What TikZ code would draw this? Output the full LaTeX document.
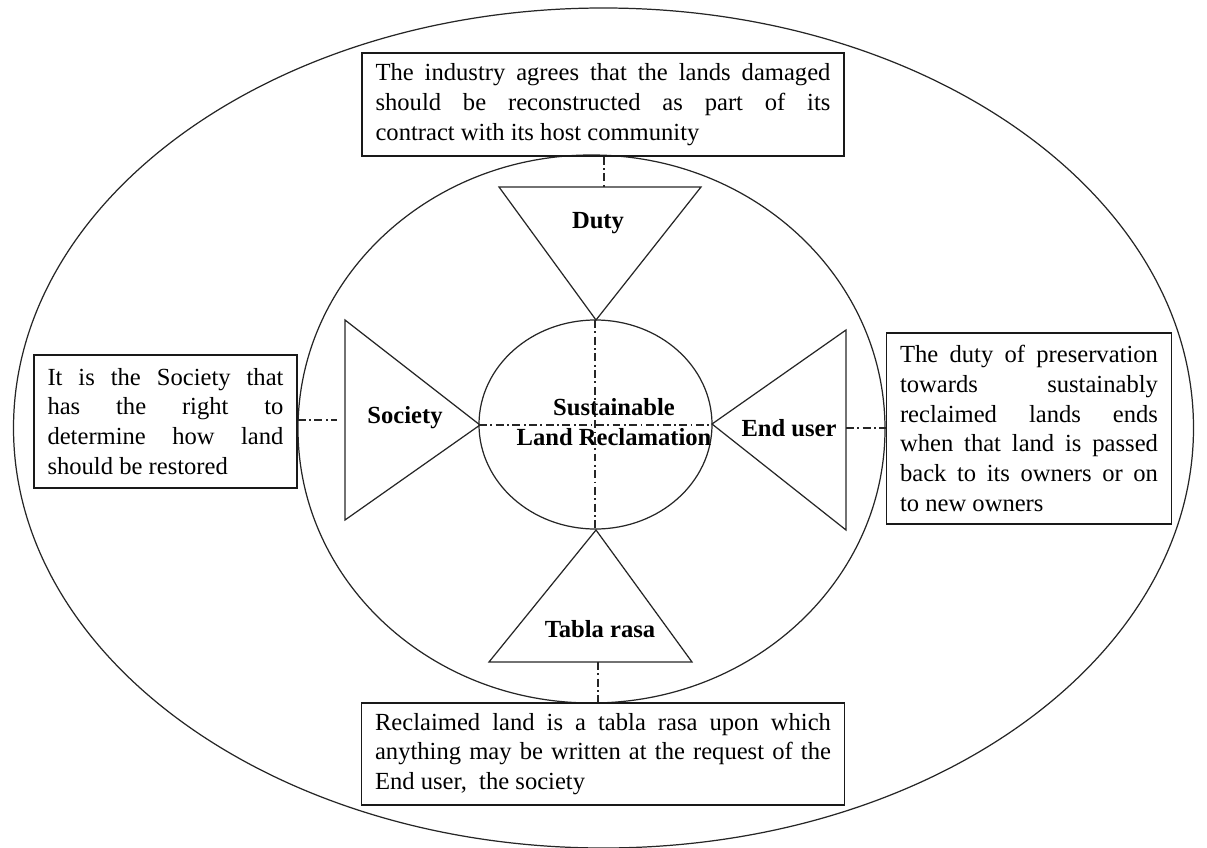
\documentclass[tikz,border=0pt]{standalone}
\usepackage{fontspec}
\setmainfont{Liberation Serif}
\usetikzlibrary{positioning}

\newcommand{\bodysize}{\fontsize{14}{17}\selectfont}

\begin{document}
\begin{tikzpicture}[x=0.02cm,y=-0.02cm,
        ring/.style={line width=0.7pt,draw=black!85},
        wedge/.style={line width=0.7pt,draw=black!85},
        note/.style={draw=black!90,line width=0.9pt,inner xsep=0.27cm,inner ysep=0pt,
            align=justify,font=\bodysize},
        tag/.style={font=\bodysize\bfseries,align=center},
        link/.style={line width=0.7pt,draw=black!85,dash pattern=on 4.5pt off 2pt on 1pt off 2pt}
    ]
    \useasboundingbox (0,0) rectangle (1207,848);

    % rings
    \draw[ring] (603.5,428) ellipse [x radius=590, y radius=420];
    \draw[ring] (591.5,429) ellipse [x radius=293.5, y radius=274];
    \draw[ring] (595.5,424.5) ellipse [x radius=116.5, y radius=104.5];

    % triangles
    \coordinate (dutyl) at (499,187);
    \coordinate (dutyr) at (701,187);
    \coordinate (dutyapex) at (596,320);
    \draw[wedge] (dutyl) -- (dutyr) -- (dutyapex) -- cycle;

    \coordinate (socu) at (345,320);
    \coordinate (socd) at (345,520);
    \coordinate (socapex) at (480,425);
    \draw[wedge] (socu) -- (socd) -- (socapex) -- cycle;

    \coordinate (euu) at (846,330);
    \coordinate (eud) at (846,530);
    \coordinate (euapex) at (712,424);
    \draw[wedge] (euu) -- (eud) -- (euapex) -- cycle;

    \coordinate (trl) at (489,662);
    \coordinate (trr) at (692,662);
    \coordinate (trapex) at (596,530);
    \draw[wedge] (trl) -- (trr) -- (trapex) -- cycle;

    % labels
    \node[tag] (duty) at (598,223) {Duty};
    \node[tag] (society) at (405,418) {Society};
    \node[tag] (enduser) at (789,428) {End user};
    \node[tag] (tabula) at (600,629) {Tabla rasa};
    \node[tag] (core) at (614,422) {Sustainable\\Land Reclamation};

    % notes
    \node[note,text width=9.1cm,minimum height=2.06cm] (topnote) at (603,104.5)
    {The industry agrees that the lands damaged\linebreak should be reconstructed as part of its\linebreak contract with its host community};
    \node[note,text width=4.72cm,minimum height=2.66cm] (leftnote) at (165.5,421.5)
    {It is the Society that\linebreak has the right to\linebreak determine how land\linebreak should be restored};
    \node[note,text width=5.16cm,minimum height=3.82cm] (rightnote) at (1029,428.5)
    {The duty of preservation\linebreak towards sustainably\linebreak reclaimed lands ends\linebreak when that land is passed\linebreak back to its owners or on\linebreak to new owners};
    \node[note,text width=9.12cm,minimum height=2.04cm] (bottomnote) at (603,754)
    {Reclaimed land is a tabla rasa upon which\linebreak anything may be written at the request of the\linebreak End user,\ \ the society};

    % dash-dot links
    \coordinate (dutyhead) at (604,187);
    \coordinate (socend) at (337,420);
    \coordinate (eubase) at (846,428);
    \coordinate (trbase) at (598,662);
    \coordinate (coretop) at (595,320);
    \coordinate (corebot) at (595,529);
    \coordinate (corel) at (479,425);
    \coordinate (corer) at (712,425);
    \draw[link] (dutyhead |- topnote.south) -- (dutyhead);
    \draw[link] (leftnote.east |- socend) -- (socend);
    \draw[link] (eubase) -- (eubase -| rightnote.west);
    \draw[link] (trbase) -- (trbase |- bottomnote.north);
    \draw[link] (coretop) -- (corebot);
    \draw[link] (corel) -- (corer);
\end{tikzpicture}
\end{document}
